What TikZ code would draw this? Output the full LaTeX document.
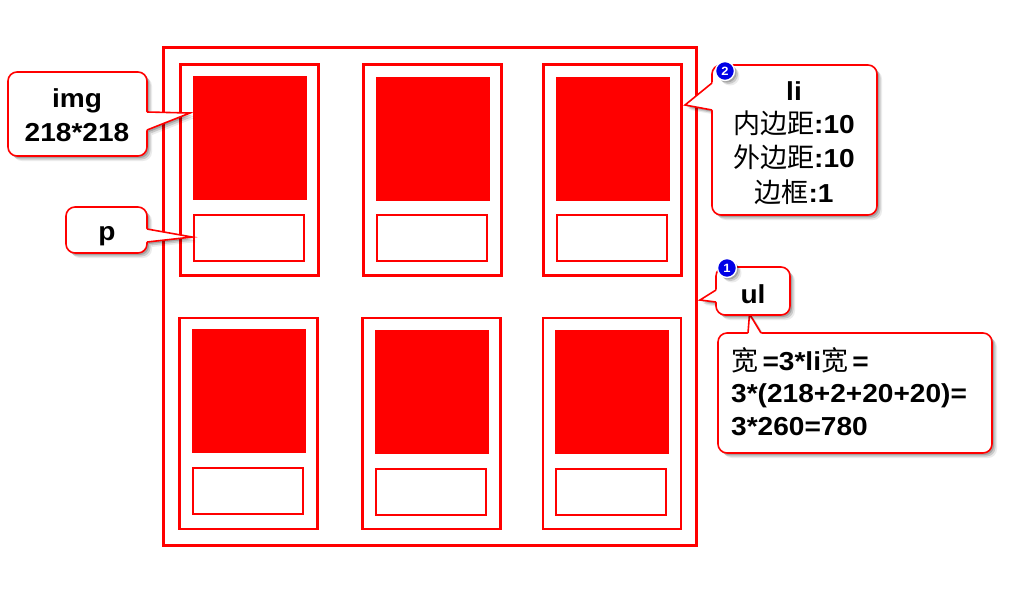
\documentclass[tikz,border=0pt]{standalone}
\usepackage{fontspec}
\setmainfont{Liberation Sans}[FakeStretch=1.08]
\newfontfamily\cjk{Noto Sans CJK SC}
\usetikzlibrary{shadows,calc}
\newcommand{\zh}[1]{{\cjk\mdseries\fontsize{27}{32}\selectfont #1}}
\definecolor{badgeblue}{RGB}{0,0,230}
\tikzset{
  ulbox/.style={draw=red, line width=2.6pt, inner sep=0pt, minimum width=533pt, minimum height=498pt},
  libox/.style={draw=red, line width=2.6pt, inner sep=0pt, minimum width=138pt, minimum height=211pt},
  imgbox/.style={fill=red, inner sep=0pt, minimum width=114pt, minimum height=124pt},
  pbox/.style={draw=red, line width=2pt, inner sep=0pt, minimum width=110pt, minimum height=46pt},
  softshadow/.style={
    drop shadow={shadow xshift=5pt, shadow yshift=-5pt, fill=black, opacity=0.08},
    drop shadow={shadow xshift=3.5pt, shadow yshift=-3.5pt, fill=black, opacity=0.14},
    drop shadow={shadow xshift=2pt, shadow yshift=-2pt, fill=black, opacity=0.18}},
  callbox/.style={draw=red, fill=white, line width=1.6pt, rounded corners=9pt, inner sep=0pt, softshadow},
  ptrshadow/.style={fill=white, softshadow},
  ptrline/.style={draw=red, line width=1.6pt, line join=miter},
  lbl/.style={font=\bfseries\fontsize{26}{32}\selectfont, anchor=base, inner sep=0pt},
  lblw/.style={lbl, anchor=base west},
  badge/.style={circle, fill=badgeblue, draw=white, line width=1.4pt, minimum size=19pt, inner sep=0pt,
    text=white, font=\bfseries\fontsize{12}{12}\selectfont, softshadow},
}
\newcommand{\pointer}[3]{%
  \fill[white] ($(#1)!-2.5pt!(#2)$) -- (#2) -- ($(#3)!-2.5pt!(#2)$) -- cycle;
  \draw[ptrline] (#1) -- (#2) -- (#3);
}
\begin{document}
\begin{tikzpicture}[x=1pt,y=-1pt]
\useasboundingbox[fill=white] (0,0) rectangle (1024,614);

% ul box
\node[ulbox] (ul) at (430,296.5) {};
% li boxes
\node[libox] (li1) at (249.5,170) {};
\node[libox] (li2) at (432.5,170) {};
\node[libox] (li3) at (612.5,170) {};
\node[libox] (li4) at (248.5,423.5) {};
\node[libox] (li5) at (431.5,423.5) {};
\node[libox] (li6) at (612,423.5) {};
% img boxes
\node[imgbox] (img1) at (249.5,138) {};
\node[imgbox] (img2) at (433,139) {};
\node[imgbox] (img3) at (613,139) {};
\node[imgbox] (img4) at (249,391) {};
\node[imgbox] (img5) at (432,392) {};
\node[imgbox] (img6) at (612,392) {};
% p boxes
\node[pbox] (p1) at (249,238) {};
\node[pbox] (p2) at (432,238) {};
\node[pbox] (p3) at (612,238) {};
\node[pbox] (p4) at (248,491) {};
\node[pbox] (p5) at (431,492) {};
\node[pbox] (p6) at (611,492) {};

% ---- img callout
\coordinate (imgb1) at (147,112);
\coordinate (imgtip) at (190,113);
\coordinate (imgb2) at (147,130);
\path[ptrshadow] (imgb1) -- (imgtip) -- (imgb2) -- cycle;
\node[callbox, minimum width=139pt, minimum height=84pt] (imgcall) at (77.5,114) {};
\pointer{imgb1}{imgtip}{imgb2}
\node[lbl] (imgt1) at (77,107) {img};
\node[lbl] (imgt2) at (77,141) {218*218};

% ---- p callout
\coordinate (pb1) at (147,229);
\coordinate (ptip) at (192,237);
\coordinate (pb2) at (147,242);
\path[ptrshadow] (pb1) -- (ptip) -- (pb2) -- cycle;
\node[callbox, minimum width=81pt, minimum height=46pt] (pcall) at (106.5,230) {};
\pointer{pb1}{ptip}{pb2}
\node[lbl] (pt) at (107,240) {p};

% ---- li callout
\coordinate (lib1) at (712,83);
\coordinate (litip) at (685,105);
\coordinate (lib2) at (712,110);
\path[ptrshadow] (lib1) -- (litip) -- (lib2) -- cycle;
\node[callbox, minimum width=165pt, minimum height=150pt] (licall) at (794.5,140) {};
\pointer{lib1}{litip}{lib2}
\node[lbl] (lit1) at (794,100) {li};
\node[lbl] (lit2) at (794,133) {\zh{内边距}:10};
\node[lbl] (lit3) at (794,167) {\zh{外边距}:10};
\node[lbl] (lit4) at (794,202) {\zh{边框}:1};
\node[badge] (badge2) at (725,71) {2};

% ---- calc callout (pointer up to ul callout)
\coordinate (cb1) at (748,333);
\coordinate (ctip) at (749.5,314);
\coordinate (cb2) at (761,333);
\path[ptrshadow] (cb1) -- (ctip) -- (cb2) -- cycle;
\node[callbox, minimum width=274pt, minimum height=120pt] (calccall) at (855,393) {};
\pointer{cb1}{ctip}{cb2}
\node[lblw] (ct1) at (731,370) {\zh{宽}\,=3*li\zh{宽}\,=};
\node[lblw] (ct2) at (731,402) {3*(218+2+20+20)=};
\node[lblw] (ct3) at (731,435) {3*260=780};

% ---- ul callout
\coordinate (ulb1) at (716,290);
\coordinate (ultip) at (700,300);
\coordinate (ulb2) at (716,302);
\path[ptrshadow] (ulb1) -- (ultip) -- (ulb2) -- cycle;
\node[callbox, minimum width=74pt, minimum height=48pt] (ulcall) at (753,291) {};
\pointer{ulb1}{ultip}{ulb2}
\node[lbl] (ult) at (753,303) {ul};
\node[badge] (badge1) at (727,268) {1};
\end{tikzpicture}
\end{document}
